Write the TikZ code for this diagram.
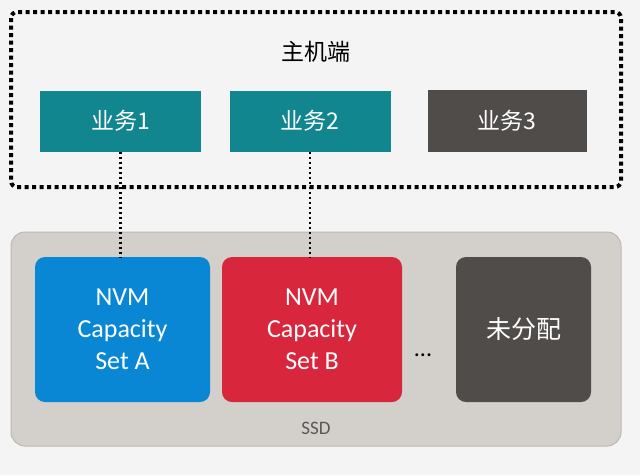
\documentclass[tikz,border=0pt]{standalone}
\usepackage{fontspec}
\setmainfont{Carlito}
\newfontfamily\cjk{Noto Sans CJK SC}
\usetikzlibrary{positioning}

\definecolor{bgcol}{HTML}{F4F4F4}
\definecolor{tealcol}{HTML}{12868F}
\definecolor{darkcol}{HTML}{4F4C49}
\definecolor{ssdcol}{HTML}{D3CFCB}
\definecolor{ssdline}{HTML}{BDB8B3}
\definecolor{bluecol}{HTML}{0987D4}
\definecolor{redcol}{HTML}{D8263C}

\tikzset{
  task/.style={draw=none, fill=tealcol, text=white, minimum width=161pt, minimum height=61pt, font=\cjk\fontsize{23}{26}\selectfont},
  nvm/.style={fill=#1, rounded corners=10pt, text=white, minimum height=145pt, align=center, font=\fontsize{26}{32}\selectfont},
  link/.style={line width=2.4pt, dash pattern=on 2.4pt off 2.6pt}
}

\begin{document}
\begin{tikzpicture}[x=1pt,y=-1pt]

\path [use as bounding box, fill=bgcol] (0,0) rectangle (640,475);

% HOST
\draw [line width=4pt, dash pattern=on 4pt off 3.5pt, rounded corners=6pt] (11,12) rectangle (621,187);
\node (host) at (316,52) {\cjk\fontsize{23}{26}\selectfont 主机端};
\node [task] (t1) at (120.5,121) {业务1};
\node [task] (t2) at (310,121) {业务2};
\node [task, fill=darkcol, draw=gray!60!black, line width=0.8pt, minimum width=158pt] (t3) at (507,121) {业务3};

% SSD
\filldraw [draw=ssdline, fill=ssdcol, line width=1pt, rounded corners=14pt] (11,232) rectangle (621,446);
\node [nvm=bluecol, minimum width=175pt] (a) at (122.5,329.5) {NVM\\Capacity\\Set A};
\node [nvm=redcol, minimum width=180pt] (b) at (312,329.5) {NVM\\Capacity\\Set B};
\node [nvm=darkcol, minimum width=135pt, font=\cjk\fontsize{25}{28}\selectfont] (free) at (523.5,329.5) {未分配};
\node [font=\fontsize{24}{26}\selectfont] (dots) at (423,355) {...};
\node [font=\fontsize{19}{22}\selectfont, text=gray!70!black] (ssd) at (316,428) {SSD};

% LINKS
\draw [link] (t1.south) -- (t1.south |- a.north);
\draw [link] (t2.south) -- (t2.south |- b.north);

\end{tikzpicture}
\end{document}
